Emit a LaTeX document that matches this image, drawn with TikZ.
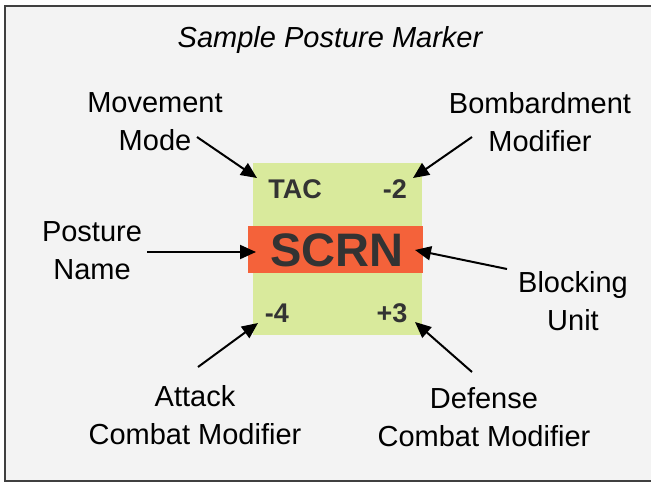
\documentclass[tikz,border=0pt]{standalone}
\usepackage{fontspec}
\setmainfont{Liberation Sans}
\usetikzlibrary{arrows.meta}
\usetikzlibrary{positioning}

\definecolor{panelgray}{HTML}{F3F3F3}
\definecolor{markergreen}{HTML}{D9EA9C}
\definecolor{markerorange}{HTML}{F4623A}
\definecolor{inkgray}{HTML}{333333}

\begin{document}
\begin{tikzpicture}[x=1pt,y=-1pt,
      lbl/.style   ={align=center, font=\fontsize{29}{38}\selectfont, inner sep=0pt},
      field/.style ={font=\fontsize{27}{30}\selectfont\bfseries, text=inkgray, inner sep=0pt},
      pointer/.style={-{Triangle[length=16pt,width=14pt]}, line width=2pt}
    ]
    \useasboundingbox (0,0) rectangle (651,483);
    \fill[white] (0,0) rectangle (651,483);
    \draw[fill=panelgray, draw=black!75, line width=2pt] (660,6) -- (5,6) -- (5,481) -- (660,481);

    \node [font=\fontsize{29}{34}\selectfont\itshape] (title) at (330,40) {Sample Posture Marker};

    % the marker itself
    \node [fill=markergreen, minimum width=169, minimum height=172, inner sep=0pt] (marker) at (337.5,249) {};
    \node [fill=markerorange, minimum width=175, minimum height=47, inner sep=0pt] (band) at (335.5,249.5) {};
    \node [font=\fontsize{47}{50}\selectfont\bfseries, text=inkgray, inner sep=0pt] (scrn) at (337,250) {SCRN};
    \node [field] (tac) at (295,189) {TAC};
    \node [field] (bomb) at (395,189) {-2};
    \node [field] (att) at (277,313) {-4};
    \node [field] (def) at (392,313) {+3};

    % labels round it
    \node [lbl] (mvmode) at (155,122) {Movement\\Mode};
    \node [lbl] (bbmod) at (540,122) {Bombardment\\Modifier};
    \node [lbl] (pname) at (92,251) {Posture\\Name};
    \node [lbl] (blunit) at (573,301) {Blocking\\Unit};
    \node [lbl] (atkmod) at (195,415) {Attack\\Combat Modifier};
    \node [lbl] (defmod) at (484,417) {Defense\\Combat Modifier};

    % arrow ends
    \coordinate (mv-a) at (197,137);  \coordinate (mv-b) at (257,178);
    \coordinate (bb-a) at (472,137);  \coordinate (bb-b) at (413,178);
    \coordinate (pn-a) at (147,252);  \coordinate (pn-b) at (256,252);
    \coordinate (bu-a) at (507,269);  \coordinate (bu-b) at (415,250);
    \coordinate (at-a) at (198,367);  \coordinate (at-b) at (258,323);
    \coordinate (df-a) at (472,372);  \coordinate (df-b) at (415,322);

    \draw [pointer] (mv-a) -- (mv-b);
    \draw [pointer] (bb-a) -- (bb-b);
    \draw [pointer] (pn-a) -- (pn-b);
    \draw [pointer] (bu-a) -- (bu-b);
    \draw [pointer] (at-a) -- (at-b);
    \draw [pointer] (df-a) -- (df-b);
  \end{tikzpicture}
\end{document}
